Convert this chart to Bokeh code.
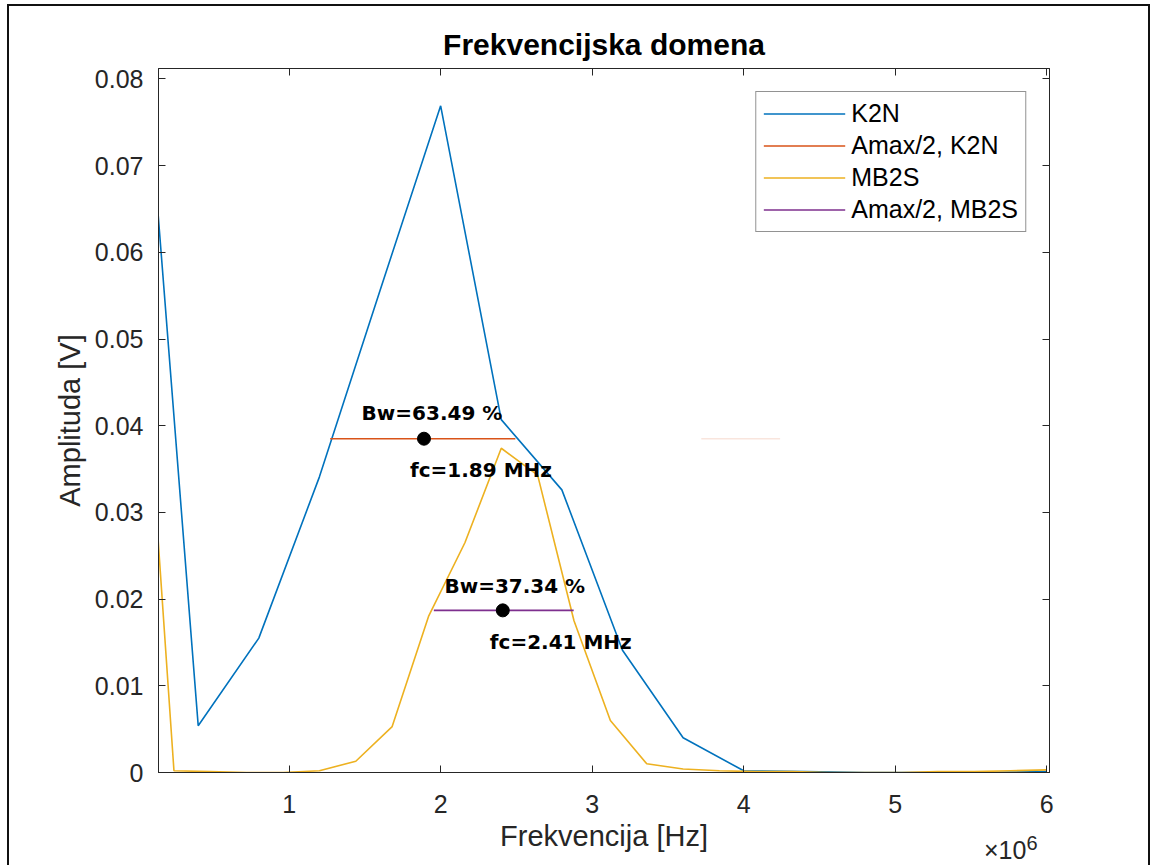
from bokeh.plotting import figure
from bokeh.models import Range1d, FixedTicker, LinearAxis, Div
from bokeh.layouts import column
from bokeh.embed import file_html
from bokeh.resources import INLINE
from bokeh.core.properties import value

# ---------------- data ----------------
freq_k2n = [0.0, 0.4e6, 0.8e6, 1.2e6, 1.6e6, 2.0e6, 2.4e6, 2.8e6, 3.2e6, 3.6e6,
            4.0e6, 4.4e6, 4.8e6, 5.2e6, 5.6e6, 6.0e6]
amp_k2n = [0.0946, 0.0054, 0.0155, 0.0341, 0.0556, 0.0769, 0.0407, 0.0326, 0.0141, 0.0040,
           0.0002, 0.0001, 0.0000, 0.0000, 0.0000, 0.0001]

freq_mb2s = [0.0, 0.24e6, 0.48e6, 0.72e6, 0.96e6, 1.20e6, 1.44e6, 1.68e6, 1.92e6, 2.16e6,
             2.40e6, 2.64e6, 2.88e6, 3.12e6, 3.36e6, 3.60e6, 3.84e6, 4.08e6, 4.32e6, 4.56e6,
             4.80e6, 5.04e6, 5.28e6, 5.52e6, 5.76e6, 6.00e6]
amp_mb2s = [0.0614, 0.0002, 0.0001, 0.0000, 0.0000, 0.0002, 0.0013, 0.0053, 0.0180, 0.0265,
            0.0374, 0.0343, 0.0175, 0.0060, 0.0010, 0.0004, 0.0002, 0.0001, 0.0001, 0.0000,
            0.0000, 0.0000, 0.0001, 0.0001, 0.0002, 0.0003]

half_x_k2n = [1.271e6, 2.493e6]
half_y_k2n = [0.0385, 0.0385]
faint_x_k2n = [3.72e6, 4.24e6]
half_x_mb2s = [1.955e6, 2.878e6]
half_y_mb2s = [0.0187, 0.0187]

fc_x = [1.89e6, 2.41e6]
fc_y = [0.0385, 0.0187]
bw_texts = ["Bw=63.49 %", "Bw=37.34 %"]
fc_texts = ["fc=1.89 MHz", "fc=2.41 MHz"]

x_ticks = [1e6, 2e6, 3e6, 4e6, 5e6, 6e6]
x_tick_labels = ["1", "2", "3", "4", "5", "6"]
y_ticks = [0.0, 0.01, 0.02, 0.03, 0.04, 0.05, 0.06, 0.07, 0.08]
y_tick_labels = ["0", "0.01", "0.02", "0.03", "0.04", "0.05", "0.06", "0.07", "0.08"]
x_exponent = "6"

# ---------------- styles ----------------
C_BLUE = "#0072BD"
C_RED = "#D95319"
C_YEL = "#EDB120"
C_PUR = "#7E2F8E"
AX = "#262626"
FONT = "Liberation Sans"

p = figure(width=1139, height=859, output_backend="svg", toolbar_location=None,
           x_range=Range1d(0.138e6, 6.018e6), y_range=Range1d(0.0, 0.0812),
           min_border_left=149, min_border_right=103, min_border_top=62, min_border_bottom=95,
           title="Frekvencijska domena")
p.margin = (4, 0, 0, 7)
p.styles = {"border-left": "2px solid #111111", "border-top": "2px solid #111111",
            "border-right": "2px solid #111111", "box-sizing": "content-box"}
p.background_fill_color = "white"
p.border_fill_color = "white"
p.grid.visible = False
p.outline_line_color = AX
p.outline_line_width = 1

p.title.text_font = FONT
p.title.text_font_size = "30px"
p.title.text_font_style = "bold"
p.title.text_color = "#000000"
p.title.align = "center"
p.title.standoff = 15

xax = p.xaxis[0]
xax.ticker = FixedTicker(ticks=x_ticks)
xax.major_label_overrides = {t: l for t, l in zip(x_ticks, x_tick_labels)}
xax.axis_label = "Frekvencija [Hz]"
yax = p.yaxis[0]
yax.ticker = FixedTicker(ticks=y_ticks)
yax.major_label_overrides = {t: l for t, l in zip(y_ticks, y_tick_labels)}
yax.axis_label = "Amplituda [V]"
for ax in (xax, yax):
    ax.axis_line_color = AX
    ax.major_tick_line_color = AX
    ax.major_tick_in = 7
    ax.major_tick_out = 0
    ax.minor_tick_line_color = None
    ax.major_label_text_font = FONT
    ax.major_label_text_font_size = "25px"
    ax.major_label_text_color = AX
    ax.axis_label_text_font = FONT
    ax.axis_label_text_font_size = "29px"
    ax.axis_label_text_font_style = "normal"
    ax.axis_label_text_color = AX
xax.major_label_standoff = 22
xax.axis_label_standoff = 4
yax.major_label_standoff = 15
yax.axis_label_standoff = 6

top_ax = LinearAxis(ticker=FixedTicker(ticks=x_ticks), major_label_text_font_size="0px",
                    axis_line_color=AX, major_tick_line_color=AX, major_tick_in=7,
                    major_tick_out=0, minor_tick_line_color=None)
right_ax = LinearAxis(ticker=FixedTicker(ticks=y_ticks), major_label_text_font_size="0px",
                      axis_line_color=AX, major_tick_line_color=AX, major_tick_in=7,
                      major_tick_out=0, minor_tick_line_color=None)
p.add_layout(top_ax, "above")
p.add_layout(right_ax, "right")

# ---------------- glyphs ----------------
p.line(freq_k2n, amp_k2n, line_color=C_BLUE, line_width=1.6, legend_label="K2N")
p.line(half_x_k2n, half_y_k2n, line_color=C_RED, line_width=1.6, legend_label="Amax/2, K2N")
p.line(faint_x_k2n, half_y_k2n, line_color=C_RED, line_width=1.6, line_alpha=0.15)
p.line(freq_mb2s, amp_mb2s, line_color=C_YEL, line_width=1.6, legend_label="MB2S")
p.line(half_x_mb2s, half_y_mb2s, line_color=C_PUR, line_width=1.6, legend_label="Amax/2, MB2S")

p.scatter(fc_x, fc_y, size=13, color="black")

p.text(fc_x, fc_y, text=bw_texts, text_font=value("DejaVu Sans"), text_font_size="20px",
       text_font_style="bold", text_color="black", text_align="center",
       text_baseline="alphabetic", x_offset=[8, 12], y_offset=[-26, -24])
p.text(fc_x, fc_y, text=fc_texts, text_font=value("DejaVu Sans"), text_font_size="20px",
       text_font_style="bold", text_color="black", text_align="center",
       text_baseline="alphabetic", x_offset=[57, 58], y_offset=[31, 32])

lg = p.legend[0]
lg.location = "top_right"
lg.margin = 23
lg.padding = 7
lg.spacing = 3
lg.label_height = 29
lg.glyph_height = 29
lg.glyph_width = 82
lg.label_standoff = 6
lg.label_text_font = FONT
lg.label_text_font_size = "25px"
lg.label_text_color = "#000000"
lg.border_line_color = AX
lg.border_line_width = 1
lg.background_fill_color = "white"
lg.background_fill_alpha = 1.0

# axis exponent "x10^6" placed under the right end of the x axis
exp_div = Div(
    text='\u00d710<sup style="font-size:20px;line-height:0;vertical-align:9px">'
         + x_exponent + '</sup>',
    styles={"font-family": "'Liberation Sans'", "font-size": "25px", "color": AX,
            "line-height": "24px", "white-space": "nowrap"},
    width=70, height=27, margin=(-27, 0, 0, 984))

layout = column(p, exp_div, spacing=0)
open("out.html", "w").write(file_html(layout, INLINE))
